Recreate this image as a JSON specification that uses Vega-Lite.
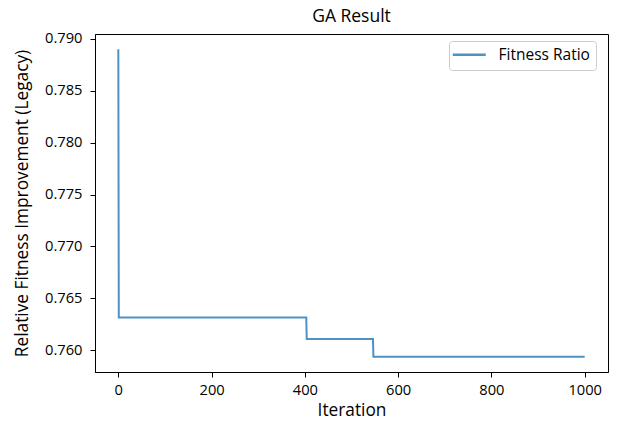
{
  "$schema": "https://vega.github.io/schema/vega-lite/v6.json",
  "width": 513,
  "height": 338,
  "autosize": {"type": "none"},
  "padding": {"left": 95, "top": 34, "right": 9, "bottom": 49},
  "background": "white",
  "title": {"text": "GA Result", "fontSize": 17.5, "font": "Open Sans", "fontWeight": "normal", "color": "#000000", "offset": 5},
  "config": {
    "font": "Open Sans",
    "view": {"stroke": "#000000", "strokeWidth": 1},
    "axis": {"grid": false, "domainColor": "#000000", "tickColor": "#000000", "tickSize": 5, "labelColor": "#000000", "titleColor": "#000000", "labelFontSize": 14.7, "titleFontSize": 17.3, "titleFontWeight": "normal", "labelFont": "Open Sans", "titleFont": "Open Sans"}
  },
  "data": {
    "values": [
      {"iteration": 0, "value": 0.7890, "series": "Fitness Ratio"},
      {"iteration": 1, "value": 0.76314, "series": "Fitness Ratio"},
      {"iteration": 403, "value": 0.76314, "series": "Fitness Ratio"},
      {"iteration": 404, "value": 0.76108, "series": "Fitness Ratio"},
      {"iteration": 546, "value": 0.76108, "series": "Fitness Ratio"},
      {"iteration": 547, "value": 0.75937, "series": "Fitness Ratio"},
      {"iteration": 1000, "value": 0.75937, "series": "Fitness Ratio"}
    ]
  },
  "mark": {"type": "line", "strokeWidth": 2, "strokeOpacity": 0.8},
  "encoding": {
    "x": {"field": "iteration", "type": "quantitative", "title": "Iteration",
      "scale": {"domain": [-50, 1050], "nice": false, "zero": false},
      "axis": {"values": [0, 200, 400, 600, 800, 1000], "format": "d", "labelPadding": 5, "titlePadding": 5, "labelFlush": false}},
    "y": {"field": "value", "type": "quantitative", "title": "Relative Fitness Improvement (Legacy)",
      "scale": {"domain": [0.75789, 0.79048], "nice": false, "zero": false},
      "axis": {"values": [0.76, 0.765, 0.77, 0.775, 0.78, 0.785, 0.79], "format": ".3f", "labelPadding": 8, "titlePadding": 13, "labelFlush": false}},
    "color": {"field": "series", "type": "nominal", "scale": {"range": ["#1f77b4"]},
      "legend": {"title": null, "orient": "none", "legendX": 354, "legendY": 7,
        "symbolType": "M-2,0H4.6", "symbolSize": 100, "symbolStrokeWidth": 2.5, "symbolOpacity": 0.8,
        "labelFontSize": 15.5, "labelFont": "Open Sans", "labelColor": "#000000",
        "strokeColor": "#cccccc", "fillColor": "white", "cornerRadius": 3, "padding": 6, "labelOffset": 28}}
  }
}
